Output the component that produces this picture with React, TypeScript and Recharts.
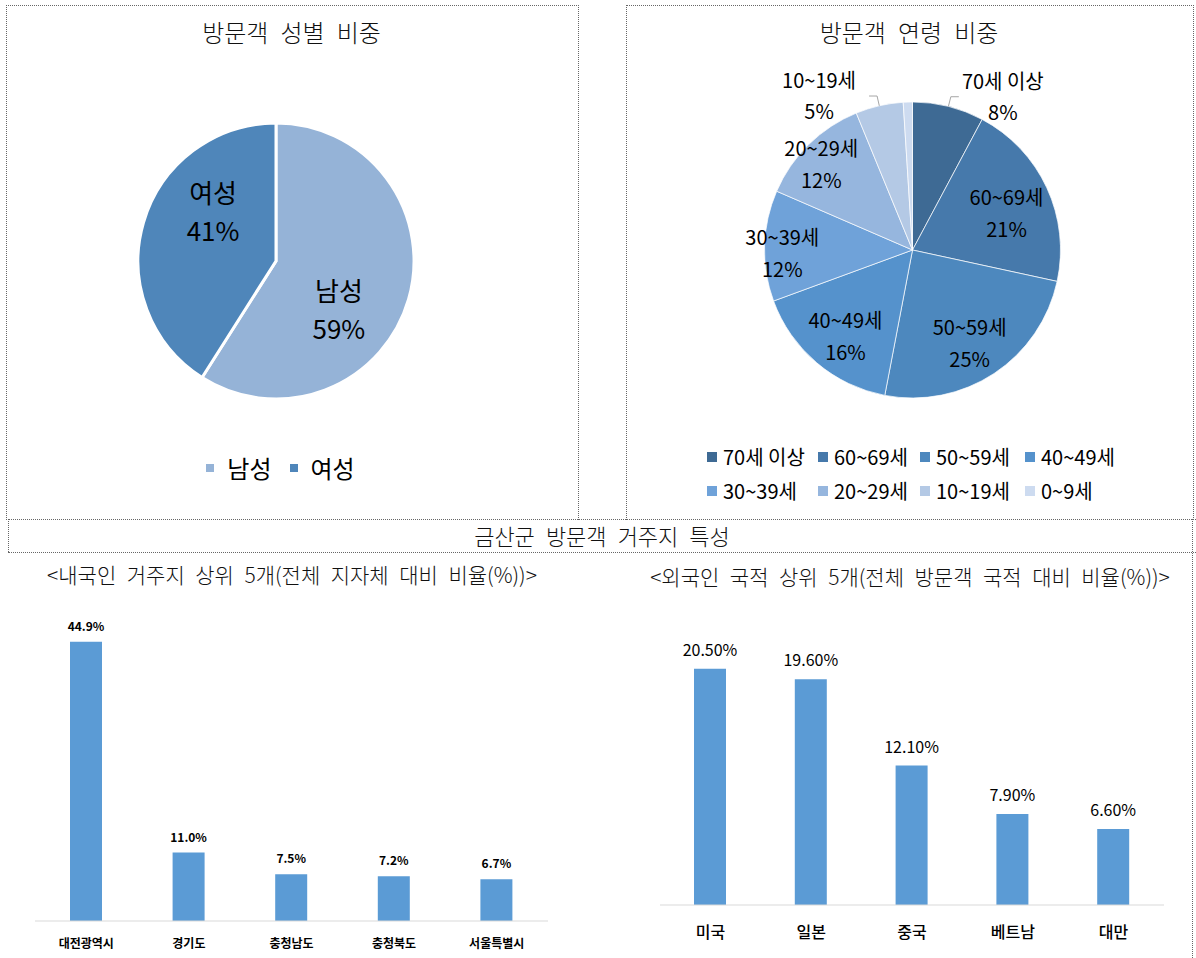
import { Bar, BarChart, Cell, LabelList, Legend, Pie, PieChart, XAxis, YAxis } from 'recharts';

const genderLabels = ['남성', '여성'];
const genderValues = [59, 41];

const ageLabels = ['70세 이상', '60~69세', '50~59세', '40~49세', '30~39세', '20~29세', '10~19세', '0~9세'];
const ageValues = [7.8, 20.6, 24.6, 16.4, 12.1, 12.3, 5.2, 1.0];
const agePercentLabels = ['8%', '21%', '25%', '16%', '12%', '12%', '5%', '1%'];

const domesticRegions = ['대전광역시', '경기도', '충청남도', '충청북도', '서울특별시'];
const domesticShares = [44.9, 11.0, 7.5, 7.2, 6.7];

const foreignCountries = ['미국', '일본', '중국', '베트남', '대만'];
const foreignShares = [20.5, 19.6, 12.1, 7.9, 6.6];

const FONT = "'Noto Sans CJK KR', 'Noto Sans', sans-serif";
const genderColors = ['#95B3D7', '#4F86BA'];
const ageColors = ['#3E6A94', '#4679AB', '#4D88BE', '#5592CC', '#6FA2D9', '#96B6DE', '#B4C9E5', '#CDDBF0'];
const BAR_COLOR = '#5B9BD5';
const RAD = Math.PI / 180;

const genderData = genderLabels.map((name, i) => ({ name, value: genderValues[i] }));
const ageData = ageLabels.map((name, i) => ({ name, value: ageValues[i] }));
const domesticData = domesticRegions.map((name, i) => ({ name, value: domesticShares[i] }));
const foreignData = foreignCountries.map((name, i) => ({ name, value: foreignShares[i] }));

const dotted = '1px dotted #666';

function GenderLabel(props: any) {
  const { cx, cy, midAngle, outerRadius, index } = props;
  const a = (midAngle - 22) * RAD;
  const r = outerRadius * 0.58;
  const x = cx + r * Math.cos(a);
  const y = cy - r * Math.sin(a);
  return (
    <text x={x} y={y} textAnchor="middle" fontSize={26} fill="#000" fontFamily={FONT}>
      <tspan x={x} dy={-9}>{genderLabels[index]}</tspan>
      <tspan x={x} dy={38}>{genderValues[index]}%</tspan>
    </text>
  );
}

function AgeLabel(props: any) {
  const { cx, cy, midAngle, outerRadius, index, value } = props;
  if (value < 2) return null;
  const a = midAngle * RAD;
  if (value < 9) {
    const x0 = cx + outerRadius * Math.cos(a);
    const y0 = cy - outerRadius * Math.sin(a);
    const x1 = cx + (outerRadius + 10) * Math.cos(a);
    const y1 = cy - (outerRadius + 10) * Math.sin(a);
    const side = x1 > cx ? 1 : -1;
    const x2 = x1 + side * 8;
    const tx = x2 + side * (side > 0 ? 44 : 50);
    return (
      <g>
        <polyline points={`${x0},${y0} ${x1},${y1} ${x2},${y1}`} fill="none" stroke="#A6A6A6" strokeWidth={1} />
        <text x={tx} y={y1} textAnchor="middle" fontSize={20} fill="#000" fontFamily={FONT}>
          <tspan x={tx} dy={-8}>{ageLabels[index]}</tspan>
          <tspan x={tx} dy={31}>{agePercentLabels[index]}</tspan>
        </text>
      </g>
    );
  }
  const r = outerRadius * (value < 14 ? 0.88 : 0.7);
  const x = cx + r * Math.cos(a);
  const y = cy - r * Math.sin(a) + 8;
  return (
    <text x={x} y={y} textAnchor="middle" fontSize={20} fill="#000" fontFamily={FONT}>
      <tspan x={x} dy={-9}>{ageLabels[index]}</tspan>
      <tspan x={x} dy={32}>{agePercentLabels[index]}</tspan>
    </text>
  );
}

function GenderLegend() {
  return (
    <div style={{ display: 'flex', justifyContent: 'center', alignItems: 'center', fontFamily: FONT, fontSize: 24, color: '#000' }}>
      {genderLabels.map((name, i) => (
        <div key={name} style={{ display: 'flex', alignItems: 'center', marginRight: i === 0 ? 18 : 0 }}>
          <span style={{ width: 8, height: 8, background: genderColors[i], marginRight: 13, display: 'inline-block' }} />
          <span>{name}</span>
        </div>
      ))}
    </div>
  );
}

const ageLegendCols = [0, 111, 213, 318];

function AgeLegend() {
  return (
    <div style={{ position: 'relative', width: 430, height: 70, fontFamily: FONT, fontSize: 20, color: '#000' }}>
      {ageLabels.map((name, i) => (
        <div
          key={name}
          style={{
            position: 'absolute',
            left: ageLegendCols[i % 4],
            top: i < 4 ? 0 : 34,
            display: 'flex',
            alignItems: 'center',
            whiteSpace: 'nowrap',
            lineHeight: '24px',
          }}
        >
          <span style={{ width: 10, height: 10, background: ageColors[i], marginRight: 6, display: 'inline-block' }} />
          <span>{name}</span>
        </div>
      ))}
    </div>
  );
}

function makeTick(dy: number, size: number, weight: string) {
  return (props: any) => {
    const { x, y, payload } = props;
    return (
      <text x={x} y={y + dy} textAnchor="middle" dominantBaseline="central" fontSize={size} fontWeight={weight} fill="#000" fontFamily={FONT}>
        {payload.value}
      </text>
    );
  };
}

const titleStyle = (left: number, top: number, width: number, size: number): React.CSSProperties => ({
  position: 'absolute',
  left,
  top,
  width,
  textAlign: 'center',
  fontFamily: FONT,
  fontSize: size,
  wordSpacing: '0.28em',
  color: '#111',
  lineHeight: `${size + 6}px`,
  fontWeight: 300,
});

export default function App() {
  return (
    <div style={{ position: 'absolute', left: 0, top: 0, width: 1196, height: 958, background: '#fff', overflow: 'hidden' }}>
      {/* frames */}
      <div style={{ position: 'absolute', left: 6, top: 5, width: 571, height: 514, borderLeft: dotted, borderTop: dotted, borderRight: dotted }} />
      <div style={{ position: 'absolute', left: 626, top: 5, width: 566, height: 514, borderLeft: dotted, borderTop: dotted, borderRight: dotted }} />
      <div style={{ position: 'absolute', left: 8, top: 519, width: 1188, height: 0, borderTop: dotted }} />
      <div style={{ position: 'absolute', left: 8, top: 552, width: 1188, height: 0, borderTop: dotted }} />
      <div style={{ position: 'absolute', left: 8, top: 519, width: 0, height: 33, borderLeft: dotted }} />
      <div style={{ position: 'absolute', left: 1192, top: 519, width: 0, height: 439, borderLeft: dotted }} />

      {/* titles */}
      <div style={titleStyle(6, 17, 571, 24)}>방문객 성별 비중</div>
      <div style={titleStyle(626, 17, 566, 24)}>방문객 연령 비중</div>
      <div style={titleStyle(8, 521, 1188, 22)}>금산군 방문객 거주지 특성</div>
      <div style={titleStyle(12, 561, 560, 21)}>&lt;내국인 거주지 상위 5개(전체 지자체 대비 비율(%))&gt;</div>
      <div style={titleStyle(630, 563, 560, 21)}>&lt;외국인 국적 상위 5개(전체 방문객 국적 대비 비율(%))&gt;</div>

      {/* gender pie */}
      <div style={{ position: 'absolute', left: 8, top: 5 }}>
        <PieChart width={569} height={513} margin={{ top: 0, right: 0, bottom: 0, left: 0 }}>
          <Pie
            data={genderData}
            dataKey="value"
            nameKey="name"
            cx={268}
            cy={256}
            outerRadius={138}
            startAngle={90}
            endAngle={-270}
            stroke="#fff"
            strokeWidth={3}
            label={GenderLabel}
            labelLine={false}
            isAnimationActive={false}
          >
            {genderData.map((d, i) => (
              <Cell key={d.name} fill={genderColors[i]} />
            ))}
          </Pie>
          <Legend content={GenderLegend} wrapperStyle={{ left: -12, top: 445, width: 569, bottom: 'auto' }} />
        </PieChart>
      </div>

      {/* age pie */}
      <div style={{ position: 'absolute', left: 627, top: 5 }}>
        <PieChart width={564} height={513} margin={{ top: 0, right: 0, bottom: 0, left: 0 }}>
          <Pie
            data={ageData}
            dataKey="value"
            nameKey="name"
            cx={285.5}
            cy={245}
            outerRadius={148}
            startAngle={90}
            endAngle={-270}
            stroke="#fff"
            strokeWidth={0.7}
            label={AgeLabel}
            labelLine={false}
            isAnimationActive={false}
          >
            {ageData.map((d, i) => (
              <Cell key={d.name} fill={ageColors[i]} />
            ))}
          </Pie>
          <Legend content={AgeLegend} wrapperStyle={{ left: 80, top: 440, width: 430, bottom: 'auto' }} />
        </PieChart>
      </div>

      {/* domestic bars */}
      <div style={{ position: 'absolute', left: 0, top: 590 }}>
        <BarChart width={560} height={368} data={domesticData} margin={{ top: 20, right: 12, left: 35, bottom: 7 }}>
          <XAxis
            dataKey="name"
            axisLine={{ stroke: '#D9D9D9' }}
            tickLine={false}
            tickSize={0}
            height={30}
            interval={0}
            tick={makeTick(19, 12, 'bold')}
          />
          <YAxis hide domain={[0, 50]} />
          <Bar dataKey="value" fill={BAR_COLOR} barSize={32} isAnimationActive={false}>
            <LabelList
              dataKey="value"
              position="top"
              offset={11}
              formatter={(v: any) => `${Number(v).toFixed(1)}%`}
              fill="#000"
              fontSize={12}
              fontWeight="bold"
              fontFamily={FONT}
            />
          </Bar>
        </BarChart>
      </div>

      {/* foreign bars */}
      <div style={{ position: 'absolute', left: 620, top: 590 }}>
        <BarChart width={560} height={368} data={foreignData} margin={{ top: 27, right: 16, left: 40, bottom: 13 }}>
          <XAxis
            dataKey="name"
            axisLine={{ stroke: '#D9D9D9' }}
            tickLine={false}
            tickSize={0}
            height={40}
            interval={0}
            tick={makeTick(24, 16, '500')}
          />
          <YAxis hide domain={[0, 25]} />
          <Bar dataKey="value" fill={BAR_COLOR} barSize={32} isAnimationActive={false}>
            <LabelList
              dataKey="value"
              position="top"
              offset={13}
              formatter={(v: any) => `${Number(v).toFixed(2)}%`}
              fill="#000"
              fontSize={16}
              fontFamily={FONT}
            />
          </Bar>
        </BarChart>
      </div>
    </div>
  );
}
